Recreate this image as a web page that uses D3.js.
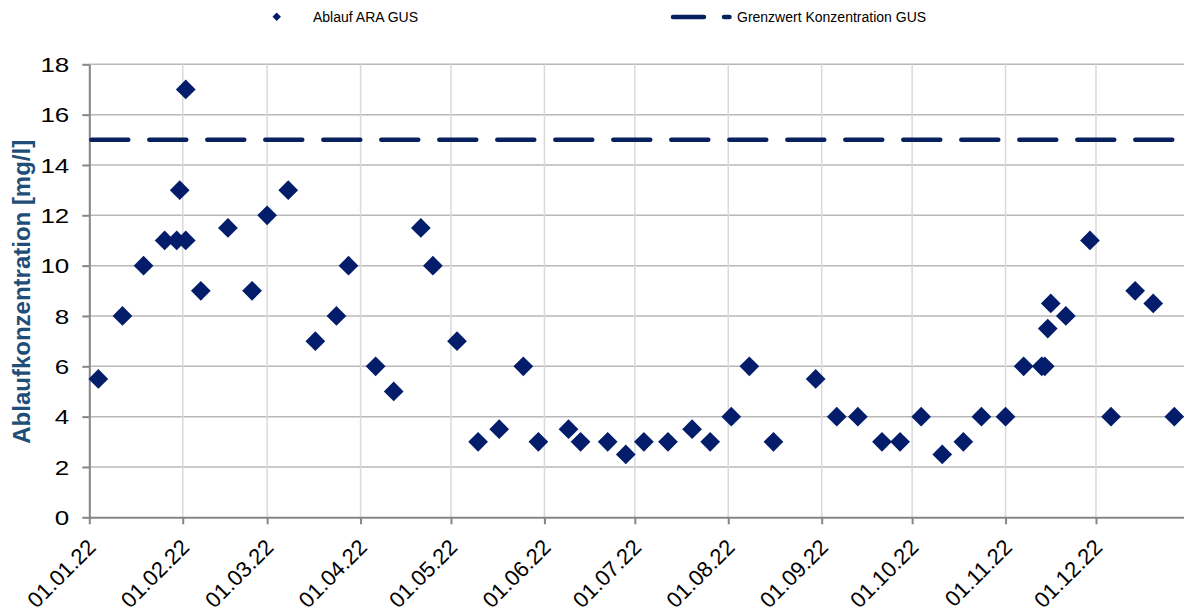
<!DOCTYPE html>
<html><head><meta charset="utf-8">
<script src="https://cdn.jsdelivr.net/npm/d3@7"></script>
<style>body{margin:0;background:#fff}svg{display:block}</style>
</head><body>
<svg id="chart" width="1184" height="614"></svg>
<script>
// ---- data ----
const sampleDates = [
  "2022-01-04","2022-01-12","2022-01-19","2022-01-26","2022-01-30","2022-01-31","2022-02-02","2022-02-02",
  "2022-02-07","2022-02-16","2022-02-24","2022-03-01","2022-03-08","2022-03-17","2022-03-24","2022-03-28",
  "2022-04-06","2022-04-12","2022-04-21","2022-04-25","2022-05-03","2022-05-10","2022-05-17","2022-05-25",
  "2022-05-30","2022-06-09","2022-06-13","2022-06-22","2022-06-28","2022-07-04","2022-07-12","2022-07-20",
  "2022-07-26","2022-08-02","2022-08-08","2022-08-16","2022-08-30","2022-09-06","2022-09-13","2022-09-21",
  "2022-09-27","2022-10-04","2022-10-11","2022-10-18","2022-10-24","2022-11-01","2022-11-07","2022-11-13",
  "2022-11-14","2022-11-15","2022-11-16","2022-11-21","2022-11-29","2022-12-06","2022-12-14","2022-12-20",
  "2022-12-27"
];
const sampleValues = [
  5.5, 8, 10, 11, 11, 13, 11, 17,
  9, 11.5, 9, 12, 13, 7, 8, 10,
  6, 5, 11.5, 10, 7, 3, 3.5, 6,
  3, 3.5, 3, 3, 2.5, 3, 3, 3.5,
  3, 4, 6, 3, 5.5, 4, 4, 3,
  3, 4, 2.5, 3, 4, 4, 6, 6,
  6, 7.5, 8.5, 8, 11, 4, 9, 8.5,
  4
];
const limitValue = 15;
const seriesNames = ["Ablauf ARA GUS", "Grenzwert Konzentration GUS"];
const yTitle = "Ablaufkonzentration [mg/l]";
const yTicks = [0, 2, 4, 6, 8, 10, 12, 14, 16, 18];
const xTickDates = ["2022-01-01","2022-02-01","2022-03-01","2022-04-01","2022-05-01","2022-06-01",
  "2022-07-01","2022-08-01","2022-09-01","2022-10-01","2022-11-01","2022-12-01"];
const xTickLabels = ["01.01.22","01.02.22","01.03.22","01.04.22","01.05.22","01.06.22",
  "01.07.22","01.08.22","01.09.22","01.10.22","01.11.22","01.12.22"];
const xDomain = ["2022-01-01", "2023-01-01"];

// ---- chart ----
const parse = d3.timeParse("%Y-%m-%d");
const W = 1184, H = 614;
const pLeft = 89.3, pTop = 64.3, pBottom = 517.3, pRight = 1189.4;
const navy = "#031d6b";
const lineNavy = "#07215f";
const font = "'Liberation Sans', Arial, sans-serif";

const svg = d3.select("#chart");
const x = d3.scaleTime().domain(xDomain.map(parse)).range([pLeft, pRight]);
const y = d3.scaleLinear().domain([0, 18]).range([pBottom, pTop]);

const tickDates = xTickDates.map(parse);

// gridlines
svg.append("g").selectAll("line").data(yTicks.filter(v => v > 0)).join("line")
  .attr("x1", pLeft).attr("x2", W).attr("y1", d => y(d)).attr("y2", d => y(d))
  .attr("stroke", "#b8b8b8").attr("stroke-width", 1.5);
svg.append("g").selectAll("line").data(tickDates.slice(1)).join("line")
  .attr("x1", d => x(d)).attr("x2", d => x(d)).attr("y1", pTop).attr("y2", pBottom)
  .attr("stroke", "#d9d9d9").attr("stroke-width", 1.5);

// axes
const yAxis = svg.append("g").attr("transform", `translate(${pLeft},0)`)
  .call(d3.axisLeft(y).tickValues(yTicks).tickSize(7).tickSizeOuter(0).tickFormat(d3.format("d")));
yAxis.select(".domain").attr("stroke", "#868686").attr("stroke-width", 2);
yAxis.selectAll(".tick line").attr("stroke", "#868686").attr("stroke-width", 2);
yAxis.selectAll(".tick text")
  .attr("x", 0).attr("dy", "0.36em")
  .attr("transform", "translate(-20,0) scale(1.3,1)")
  .attr("fill", "#000").style("font-family", font).style("font-size", "20px")
  .style("text-anchor", "end");

const xAxis = svg.append("g").attr("transform", `translate(0,${pBottom})`)
  .call(d3.axisBottom(x).tickValues(tickDates).tickSize(7).tickSizeOuter(0)
    .tickFormat((d, i) => xTickLabels[i]));
xAxis.select(".domain").attr("stroke", "#868686").attr("stroke-width", 2);
xAxis.selectAll(".tick line").attr("stroke", "#868686").attr("stroke-width", 2);
xAxis.selectAll(".tick text")
  .attr("x", 0).attr("y", 0).attr("dy", 0)
  .attr("transform", "translate(7.3,31.3) rotate(-45)")
  .attr("fill", "#000").style("font-family", font).style("font-size", "22px")
  .style("text-anchor", "end");

// y title
svg.append("text")
  .attr("transform", `translate(29.5,${(pTop + pBottom) / 2 + 1}) rotate(-90)`)
  .attr("text-anchor", "middle")
  .style("font-family", font).style("font-size", "24px").style("font-weight", "bold")
  .attr("fill", "#1f4e79").text(yTitle);

// limit line
const limitLine = d3.line().x(d => d[0]).y(d => y(d[1]));
svg.append("path")
  .attr("d", limitLine([[pLeft, limitValue], [W, limitValue]]))
  .attr("fill", "none")
  .attr("stroke", lineNavy).attr("stroke-width", 4.5)
  .attr("stroke-dasharray", "37 21").attr("stroke-dashoffset", -2)
  .attr("stroke-linecap", "round");

// points
const data = sampleDates.map((d, i) => ({ date: parse(d), value: sampleValues[i] }));
const diamond = d3.symbol().type(d3.symbolSquare).size(195);
svg.append("g").selectAll("path").data(data).join("path")
  .attr("d", diamond)
  .attr("transform", d => `translate(${x(d.date)},${y(d.value)}) rotate(45)`)
  .attr("fill", navy);

// legend
const lg = svg.append("g");
lg.append("path").attr("d", d3.symbol().type(d3.symbolSquare).size(36))
  .attr("transform", "translate(276.7,16.8) rotate(45)").attr("fill", navy);
lg.append("text").attr("x", 313).attr("y", 22).text(seriesNames[0])
  .style("font-family", font).style("font-size", "14px").attr("fill", "#000");
lg.append("line").attr("x1", 673).attr("x2", 729.5).attr("y1", 17).attr("y2", 17)
  .attr("stroke", lineNavy).attr("stroke-width", 4.5)
  .attr("stroke-dasharray", "31,20").attr("stroke-linecap", "round");
lg.append("text").attr("x", 737).attr("y", 22).text(seriesNames[1])
  .style("font-family", font).style("font-size", "14px").attr("fill", "#000");
</script>
</body></html>
